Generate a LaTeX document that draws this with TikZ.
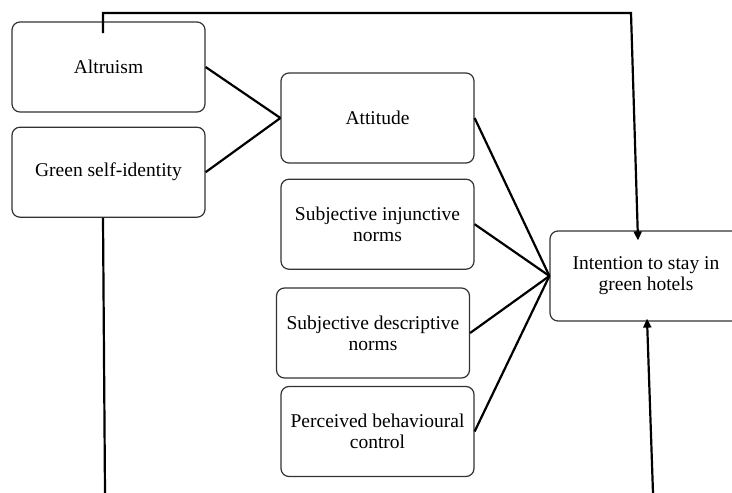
\documentclass[tikz,border=0pt]{standalone}
\usepackage{fontspec}
\setmainfont{Liberation Serif}
\usetikzlibrary{positioning,arrows.meta,calc}
\tikzset{
  factorbox/.style={draw=black!80,line width=1.2pt,rounded corners=8pt,fill=white,
    minimum width=193pt,minimum height=90pt,inner sep=0pt,align=center,
    font=\fontsize{19.5}{21}\selectfont},
  link/.style={line width=2.2pt},
  linkarrow/.style={line width=2.2pt,-{Triangle[length=9pt,width=8pt]}}
}

\begin{document}
\begin{tikzpicture}[x=1pt,y=-1pt]
\useasboundingbox (0,0) rectangle (732,493);
\clip (0,0) rectangle (732,493);
%the left boxes
\node [factorbox] (altru) at (108.5,67) {Altruism};
\node [factorbox,below=14pt of altru] (greenid) {Green self-identity};
%the middle boxes
\node [factorbox] (attit) at (377.5,118) {Attitude};
\node [factorbox,below=15pt of attit] (injunc) {Subjective injunctive\\norms};
\node [factorbox] (descr) at (373,333) {Subjective descriptive\\norms};
\node [factorbox] (pbc) at (377.5,431.5) {Perceived behavioural\\control};
%the outcome box, cut by the right edge
\node [factorbox,minimum width=192pt] (intent) at (646,276) {Intention to stay in\\green hotels};
%free ends of the long lines
\coordinate (topstart) at (103,33);
\coordinate (leftend) at (105,493);
\coordinate (rightstart) at (653,493);
%drawings of lines
\draw [link] (altru.east) -- (attit.west);
\draw [link] (greenid.east) -- (attit.west);

\draw [link] (attit.east) -- (intent.west);
\draw [link] (injunc.east) -- (intent.west);
\draw [link] (descr.east) -- (intent.west);
\draw [link] (pbc.east) -- (intent.west);

\draw [linkarrow] (topstart) -- (103,13) -- (631,13) -- ($(intent.north)+(-8,10)$);
\draw [link] ($(greenid.south)+(-5.5,0)$) -- (leftend);
\draw [linkarrow] (rightstart) -- ($(intent.south)+(1,-3)$);
\end{tikzpicture}
\end{document}
